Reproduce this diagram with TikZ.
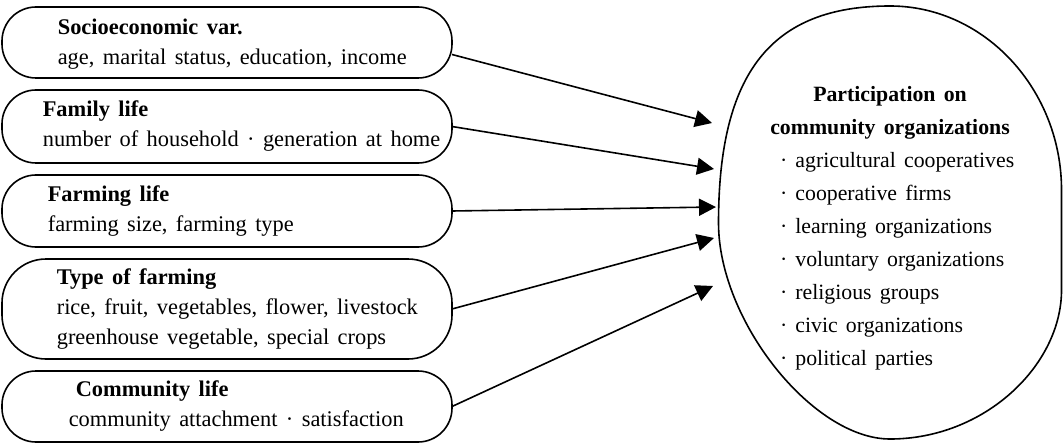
\documentclass[tikz,border=0pt]{standalone}
\usepackage{fontspec}
\setmainfont{Liberation Serif}[WordSpace=1.5]
\usetikzlibrary{arrows.meta, positioning}

\newcommand{\orgitem}[1]{\makebox[110pt][l]{· #1}}

\begin{document}
\begin{tikzpicture}
  [->, >={Triangle[length=8.5pt, width=8.5pt, fill=black]}, thick, x=0.5pt, y=-0.5pt,
  node distance=6pt,
  factor/.style={rectangle, draw=black, rounded corners=17pt, minimum width=225pt, minimum height=35.5pt, inner sep=0pt, outer sep=0pt},
  factortext/.style={align=left, inner sep=0pt, font=\fontsize{11.2}{15}\selectfont},
  outcome/.style={align=center, inner sep=0pt, font=\fontsize{10.9}{16.5}\selectfont}]
  \useasboundingbox (0,0) rectangle (1063,443);

  % influencing factors
  \node[factor] (soc) at (227,42.5) {};
  \node[factor, below=of soc, minimum height=36.5pt] (fam) {};
  \node[factor, below=of fam, minimum height=36pt] (farm) {};
  \node[factor, below=of farm, minimum height=50pt, rounded corners=22pt] (type) {};
  \node[factor, below=of type] (com) {};

  \node[factortext, right=27.5pt of soc.west, yshift=-1pt] (socT)
    {\textbf{Socioeconomic var.}\\ age, marital status, education, income};
  \node[factortext, right=20pt of fam.west] (famT)
    {\textbf{Family life}\\ number of household · generation at home};
  \node[factortext, right=22.5pt of farm.west] (farmT)
    {\textbf{Farming life}\\ farming size, farming type};
  \node[factortext, right=27pt of type.west] (typeT)
    {\textbf{Type of farming}\\ rice, fruit, vegetables, flower, livestock\\ greenhouse vegetable, special crops};
  \node[factortext, right=33pt of com.west] (comT)
    {\hspace{3.5pt}\textbf{Community life}\\ community attachment · satisfaction};

  % participation
  \node[outcome] (part) at (890,228)
    {\textbf{Participation on}\\ \textbf{community organizations}\\
     \orgitem{agricultural cooperatives}\\ \orgitem{cooperative firms}\\
     \orgitem{learning organizations}\\ \orgitem{voluntary organizations}\\
     \orgitem{religious groups}\\ \orgitem{civic organizations}\\
     \orgitem{political parties}};
  \draw[-] (890,6) .. controls (771,6) and (718.5,73) .. (718.5,223)
    .. controls (718.5,321) and (813,439) .. (890,439)
    .. controls (985,439) and (1061.5,365) .. (1061.5,290)
    -- (1061.5,190)
    .. controls (1061.5,90) and (985,6) .. (890,6);

  \coordinate (in1) at (712,123);
  \coordinate (in2) at (714,169);
  \coordinate (in3) at (716,207);
  \coordinate (in4) at (714,238);
  \coordinate (in5) at (713,286);

  \draw ([yshift=-6pt]soc.east) -- (in1);
  \draw (fam.east) -- (in2);
  \draw (farm.east) -- (in3);
  \draw (type.east) -- (in4);
  \draw (com.east) -- (in5);
\end{tikzpicture}
\end{document}
